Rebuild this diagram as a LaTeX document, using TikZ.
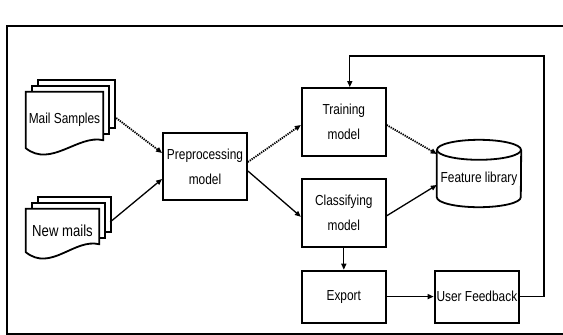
\documentclass[tikz,border=0pt]{standalone}
\usepackage{fontspec}
\setmainfont{Liberation Sans}[FakeStretch=0.82]
\usetikzlibrary{positioning,arrows.meta,calc,backgrounds}

\tikzset{
  box/.style={
    draw, line width=1.8pt, align=center, inner sep=2pt,
    minimum width=84pt, minimum height=68pt,
    font=\fontsize{14.5}{25}\selectfont,
  },
  doc/.style   ={inner sep=0pt, align=center, font=\fontsize{14.5}{17}\selectfont},
  sheet/.style ={draw, fill=white, line width=1.8pt},
  flow/.style  ={-{Triangle[length=6pt,width=5pt]}, line width=1.3pt},
  dotflow/.style={flow, densely dotted, line width=1.8pt},
}

% a stack of three sheets with a wavy lower edge, drawn behind node #1
\newcommand{\docstack}[1]{%
  \begin{scope}[on background layer]
    \foreach \d in {12,6}
      \draw[sheet] ($(#1.north west)+(\d,-\d)$) rectangle ($(#1.south east)+(\d,-8-\d)$);
    \draw[sheet] (#1.north west) -- (#1.north east) -- ($(#1.south east)+(0,-8)$)
      .. controls ($(#1.south east)+(-25,-14)$) and ($(#1.south west)+(25,20)$)
      .. (#1.south west) -- cycle;
  \end{scope}}

\begin{document}
\begin{tikzpicture}[x=1pt, y=-1pt]
\useasboundingbox (0,0) rectangle (563,335);

% outer frame, open to the right
\draw[line width=1.6pt] (575,26) -- (7,26) -- (7,334) -- (575,334);

% ---------------------------------------------------------------- inputs
\node[doc, minimum width=77pt, minimum height=56pt] (mail) at (64.5,120) {Mail Samples};
\docstack{mail}
\node[doc, minimum width=73pt, minimum height=43pt, font=\fontsize{16}{19}\selectfont]
  (new) at (62.5,230.5) {New mails};
\docstack{new}

% ---------------------------------------------------------------- models
\node[box, minimum height=67pt] (prep) at (205,166.5) {Preprocessing\\model};
\node[box, right=53pt of prep, yshift=44.5pt] (train) {Training\\model};
\node[box, below=21pt of train] (class) {Classifying\\model};
\node[box, below=22pt of class, minimum height=52pt] (export) {Export};
\node[box, right=47pt of export, minimum height=52pt] (feedback) {User Feedback};

% ---------------------------------------------------------------- feature store
\node[doc, minimum width=84pt, minimum height=57pt] (feat) at (479,178.5) {Feature library};
\draw[line width=1.8pt] (feat.north west) -- ($(feat.south west)+(0,-10)$)
  arc[start angle=180, end angle=360, x radius=42pt, y radius=10pt]
  -- (feat.north east);
\draw[line width=1.8pt] (feat.north) ellipse[x radius=42pt, y radius=10pt];

% ---------------------------------------------------------------- edges
\draw[dotflow] ([xshift=13pt,yshift=2pt]mail.east) -- ([yshift=13.5pt]prep.west);
\draw[flow] ([xshift=11pt,yshift=8.5pt]new.east) -- ([yshift=-12.5pt]prep.west);
\draw[dotflow] ([yshift=4.5pt]prep.east) -- ([yshift=-3pt]train.west);
\draw[flow] ([yshift=-4.5pt]prep.east) -- ([yshift=-4pt]class.west);
\draw[dotflow] ([yshift=-3pt]train.east) -- ([yshift=24.5pt]feat.west);
\draw[flow] ([yshift=-3pt]class.east) -- ([yshift=-6.5pt]feat.west);
\draw[flow] (class.south) -- (export.north);
\draw[flow] (export.east) -- (feedback.west);

% feedback goes back round the top into training
\coordinate (loop) at (544,56);
\draw[flow] (feedback.east) -- (feedback.east -| loop) -- (loop)
  -- ([xshift=6pt]train.north |- loop) -- ([xshift=6pt]train.north);

\end{tikzpicture}
\end{document}
